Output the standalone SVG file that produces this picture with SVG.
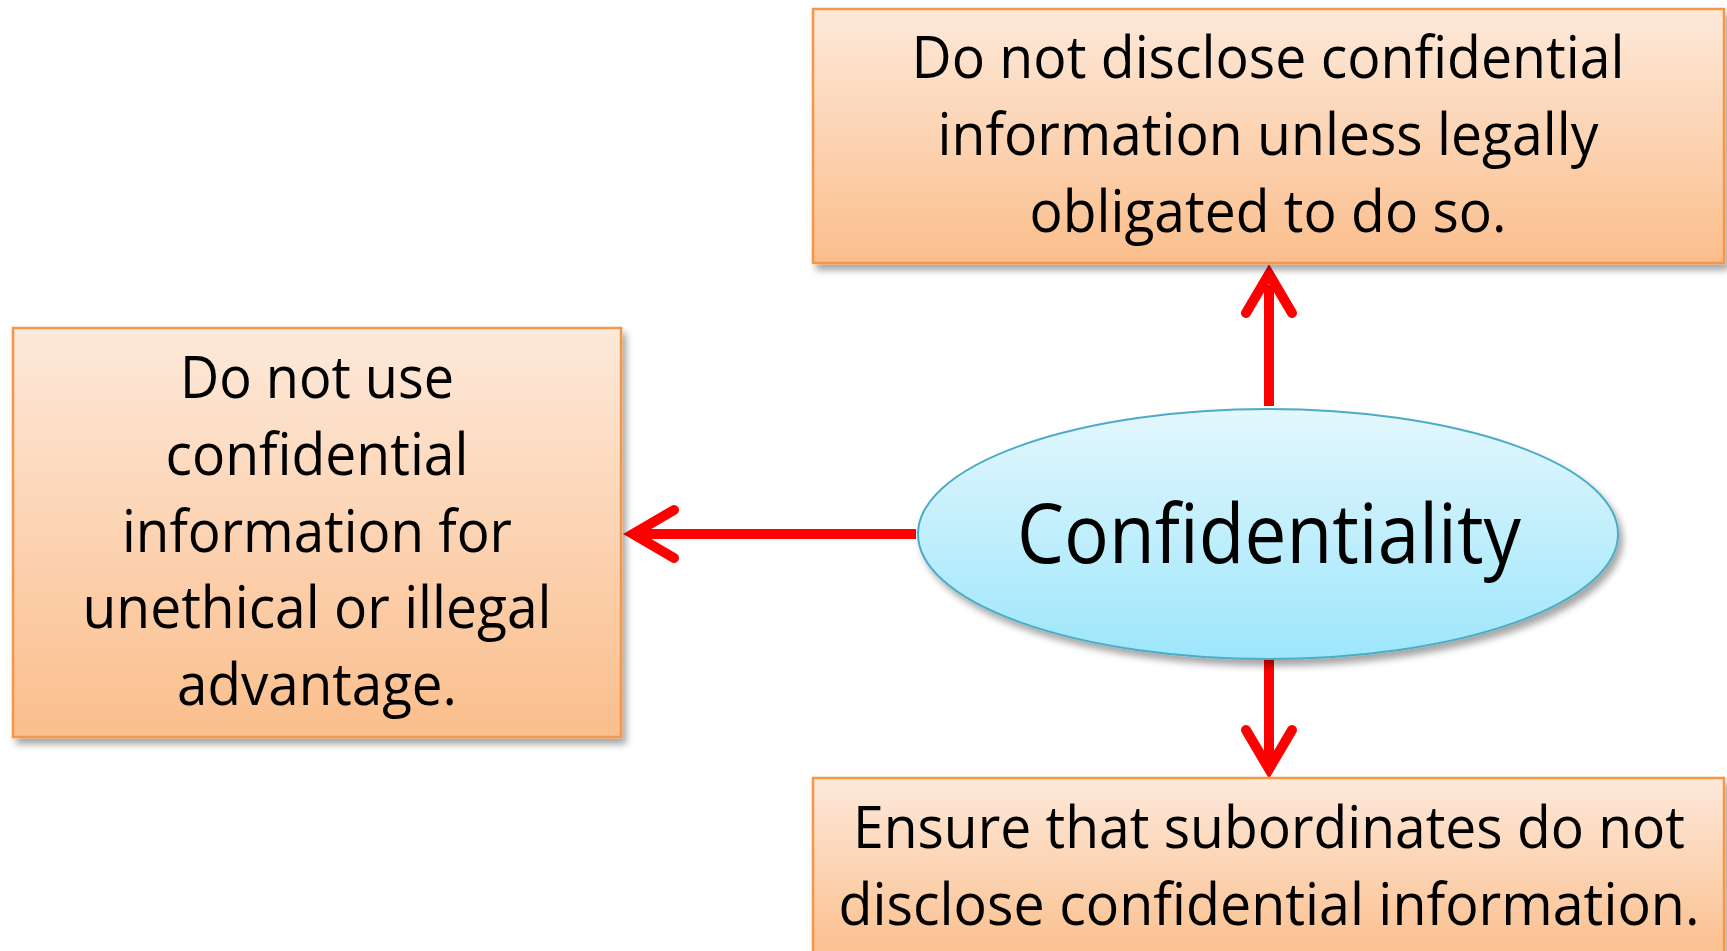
<svg xmlns="http://www.w3.org/2000/svg" width="1727" height="951" viewBox="0 0 1727 951">
<style>
.box{fill:url(#gBox);stroke:#F79646;stroke-width:2.5;filter:url(#sh)}
.ell{fill:url(#gEll);stroke:#4BACC6;stroke-width:2;filter:url(#sh)}
.t{font-family:"Open Sans","Noto Sans","Liberation Sans",sans-serif;font-size:59px;fill:#000;text-anchor:middle}
.big{font-size:82px}
.ln{stroke:#FF0000;stroke-width:10;fill:none}
.hd{stroke:#FF0000;stroke-width:10;fill:none;stroke-linecap:round;stroke-linejoin:miter;stroke-miterlimit:10}
</style>
<defs>
<linearGradient id="gBox" x1="0" y1="0" x2="0" y2="1">
<stop offset="0" stop-color="#FDE9DA"/>
<stop offset="1" stop-color="#FBBE8C"/>
</linearGradient>
<linearGradient id="gBox2" x1="0" y1="0" x2="0" y2="1">
<stop offset="0" stop-color="#FDE9DA"/>
<stop offset="1" stop-color="#FBC08F"/>
</linearGradient>
<linearGradient id="gEll" x1="0" y1="0" x2="0" y2="1">
<stop offset="0" stop-color="#E4F7FD"/>
<stop offset="1" stop-color="#9DE6FB"/>
</linearGradient>
<filter id="sh" x="-10%" y="-10%" width="125%" height="130%">
<feDropShadow dx="4" dy="6" stdDeviation="3.5" flood-color="#000" flood-opacity="0.35"/>
</filter>
</defs>
<g id="connectors">
<line class="ln" x1="1269" y1="406" x2="1269" y2="285"/>
<path class="hd" d="M1246 313 L1269 274 L1292 313"/>
<line class="ln" x1="916" y1="534" x2="642" y2="534"/>
<path class="hd" d="M674 510 L633 534 L674 558"/>
<line class="ln" x1="1269" y1="659" x2="1269" y2="760"/>
<path class="hd" d="M1246 730 L1269 769 L1292 730"/>
</g>
<g id="node-top">
<rect class="box" x="813" y="9" width="911" height="254"/>
<text class="t" x="1268" y="78" textLength="713" lengthAdjust="spacingAndGlyphs">Do not disclose confidential</text>
<text class="t" x="1268" y="155" textLength="661" lengthAdjust="spacingAndGlyphs">information unless legally</text>
<text class="t" x="1268" y="232" textLength="477" lengthAdjust="spacingAndGlyphs">obligated to do so.</text>
</g>
<g id="node-left">
<rect class="box" x="13" y="328" width="608" height="409"/>
<text class="t" x="317" y="398" textLength="274" lengthAdjust="spacingAndGlyphs">Do not use</text>
<text class="t" x="317" y="475" textLength="303" lengthAdjust="spacingAndGlyphs">confidential</text>
<text class="t" x="317" y="552" textLength="390" lengthAdjust="spacingAndGlyphs">information for</text>
<text class="t" x="317" y="628" textLength="469" lengthAdjust="spacingAndGlyphs">unethical or illegal</text>
<text class="t" x="317" y="705" textLength="280" lengthAdjust="spacingAndGlyphs">advantage.</text>
</g>
<g id="node-center">
<ellipse class="ell" cx="1268" cy="534" rx="350" ry="125"/>
<text class="t big" x="1269" y="563" textLength="504" lengthAdjust="spacingAndGlyphs">Confidentiality</text>
</g>
<g id="node-bottom">
<rect class="box" x="813" y="778" width="911" height="175" style="fill:url(#gBox2)"/>
<text class="t" x="1269" y="848" textLength="832" lengthAdjust="spacingAndGlyphs">Ensure that subordinates do not</text>
<text class="t" x="1269" y="925" textLength="861" lengthAdjust="spacingAndGlyphs">disclose confidential information.</text>
</g>
</svg>
